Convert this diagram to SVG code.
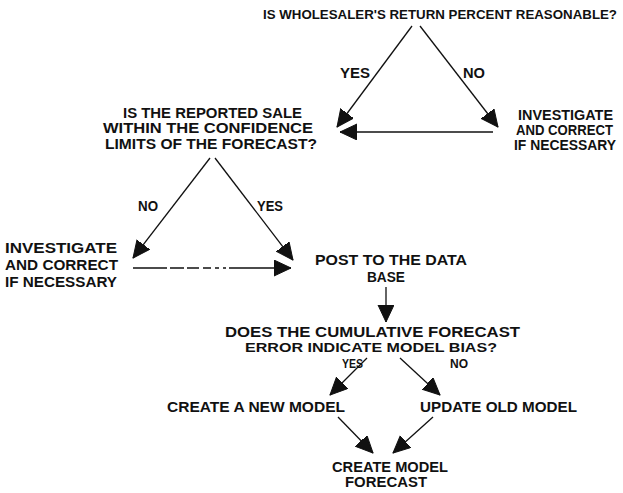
<svg xmlns="http://www.w3.org/2000/svg" width="623" height="493" viewBox="0 0 623 493">
<style>
text{font-family:"Liberation Sans",Arial,sans-serif;font-weight:bold;font-size:14px;fill:#111}
text.s{font-size:12px}
text.m{font-size:13px}
.c{stroke:#111;stroke-width:1.3;fill:none;marker-end:url(#ah)}
</style>
<defs>
<marker id="ah" markerUnits="userSpaceOnUse" markerWidth="20" markerHeight="18" refX="17" refY="8" orient="auto">
<path d="M0,0 L17,8 L0,16 Z" fill="#111" stroke="#111" stroke-width="1" stroke-linejoin="round"/>
</marker>
</defs>
<rect width="623" height="493" fill="#fff"/>
<g id="connectors">
<line class="c" x1="412" y1="26" x2="337" y2="127"/>
<line class="c" x1="420" y1="26" x2="498" y2="127"/>
<line class="c" x1="493" y1="132" x2="340" y2="132"/>
<line class="c" x1="210" y1="158" x2="133" y2="258"/>
<line class="c" x1="215" y1="158" x2="293" y2="260"/>
<line class="c" x1="133" y1="268" x2="291" y2="268" stroke-dasharray="34,3,14,3,12,4,8,4,4,4,3,3,100"/>
<line class="c" x1="386" y1="287" x2="386" y2="322"/>
<line class="c" x1="367" y1="358" x2="330" y2="395"/>
<line class="c" x1="400" y1="358" x2="440" y2="395"/>
<line class="c" x1="338" y1="417" x2="373" y2="453"/>
<line class="c" x1="433" y1="417" x2="393" y2="453"/>
<text x="340" y="78" textLength="30" lengthAdjust="spacingAndGlyphs">YES</text>
<text x="463" y="78" textLength="22" lengthAdjust="spacingAndGlyphs">NO</text>
<text x="138" y="211" textLength="20" lengthAdjust="spacingAndGlyphs">NO</text>
<text x="257" y="211" textLength="26" lengthAdjust="spacingAndGlyphs">YES</text>
<text class="s" x="342" y="368" textLength="21" lengthAdjust="spacingAndGlyphs">YES</text>
<text class="s" x="450" y="368" textLength="18" lengthAdjust="spacingAndGlyphs">NO</text>
</g>
<g id="q1">
<text class="m" x="263" y="19" textLength="354" lengthAdjust="spacingAndGlyphs">IS WHOLESALER'S RETURN PERCENT REASONABLE?</text>
</g>
<g id="investigate1">
<text x="518" y="120" textLength="95" lengthAdjust="spacingAndGlyphs">INVESTIGATE</text>
<text x="516" y="135" textLength="97" lengthAdjust="spacingAndGlyphs">AND CORRECT</text>
<text x="514" y="150" textLength="102" lengthAdjust="spacingAndGlyphs">IF NECESSARY</text>
</g>
<g id="q2">
<text x="123" y="118" textLength="179" lengthAdjust="spacingAndGlyphs">IS THE REPORTED SALE</text>
<text x="103" y="133" textLength="210" lengthAdjust="spacingAndGlyphs">WITHIN THE CONFIDENCE</text>
<text x="105" y="149" textLength="212" lengthAdjust="spacingAndGlyphs">LIMITS OF THE FORECAST?</text>
</g>
<g id="investigate2">
<text x="5" y="253" textLength="112" lengthAdjust="spacingAndGlyphs">INVESTIGATE</text>
<text x="5" y="270" textLength="113" lengthAdjust="spacingAndGlyphs">AND CORRECT</text>
<text x="5" y="287" textLength="112" lengthAdjust="spacingAndGlyphs">IF NECESSARY</text>
</g>
<g id="post">
<text x="315" y="265" textLength="152" lengthAdjust="spacingAndGlyphs">POST TO THE DATA</text>
<text x="367" y="282" textLength="38" lengthAdjust="spacingAndGlyphs">BASE</text>
</g>
<g id="q3">
<text x="225" y="337" textLength="295" lengthAdjust="spacingAndGlyphs">DOES THE CUMULATIVE FORECAST</text>
<text class="m" x="245" y="352" textLength="252" lengthAdjust="spacingAndGlyphs">ERROR INDICATE MODEL BIAS?</text>
</g>
<g id="newmodel">
<text x="167" y="412" textLength="178" lengthAdjust="spacingAndGlyphs">CREATE A NEW MODEL</text>
</g>
<g id="updatemodel">
<text x="420" y="412" textLength="157" lengthAdjust="spacingAndGlyphs">UPDATE OLD MODEL</text>
</g>
<g id="forecast">
<text x="332" y="472" textLength="116" lengthAdjust="spacingAndGlyphs">CREATE MODEL</text>
<text x="345" y="487" textLength="82" lengthAdjust="spacingAndGlyphs">FORECAST</text>
</g>
</svg>
